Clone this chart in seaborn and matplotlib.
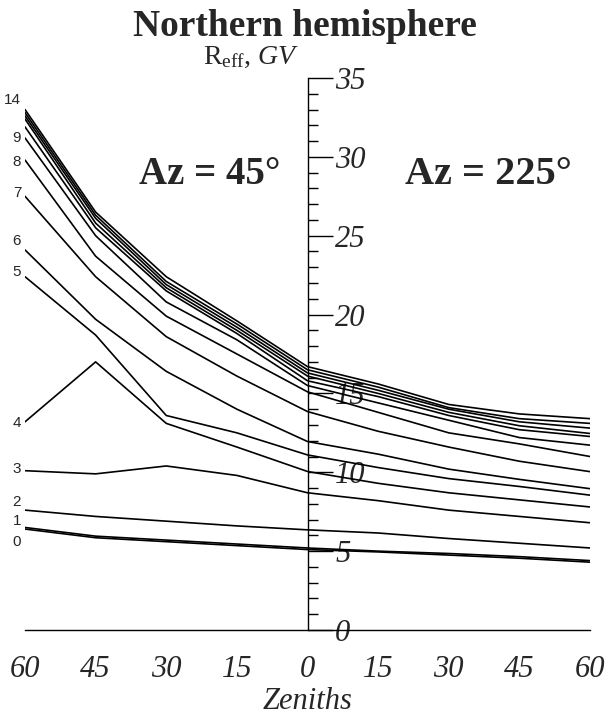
import pandas as pd
import seaborn as sns
import matplotlib.pyplot as plt

# zenith angles: negative side = Az 45, positive side = Az 225
zenith = [-60, -45, -30, -15, 0, 15, 30, 45, 60]
zenith_labels = ['60', '45', '30', '15', '0', '15', '30', '45', '60']

# effective cutoff rigidity (GV) for each curve
r0 = [6.4, 5.85, 5.6, 5.35, 5.1, 4.95, 4.75, 4.55, 4.3]
r1 = [6.5, 5.95, 5.7, 5.45, 5.2, 5.0, 4.85, 4.65, 4.4]
r2 = [7.6, 7.2, 6.9, 6.6, 6.35, 6.15, 5.8, 5.5, 5.2]
r3 = [10.1, 9.9, 10.4, 9.8, 8.7, 8.2, 7.6, 7.2, 6.8]
r4 = [13.2, 17.0, 13.1, 11.6, 10.05, 9.3, 8.7, 8.25, 7.8]
r5 = [22.4, 18.7, 13.6, 12.5, 11.1, 10.3, 9.6, 9.1, 8.55]
r6 = [24.1, 19.7, 16.4, 14.0, 11.95, 11.15, 10.2, 9.55, 8.96]
r7 = [27.5, 22.4, 18.6, 16.1, 13.85, 12.6, 11.6, 10.7, 10.04]
r8 = [29.8, 23.7, 19.9, 17.5, 15.1, 13.8, 12.5, 11.8, 11.0]
r9 = [31.2, 25.0, 20.8, 18.4, 15.5, 14.4, 13.3, 12.2, 11.72]
r10 = [31.9, 25.5, 21.5, 18.8, 15.8, 14.8, 13.6, 12.7, 12.27]
r11 = [32.4, 25.8, 21.7, 19.0, 16.1, 15.0, 13.8, 12.95, 12.46]
r12 = [32.6, 26.1, 21.9, 19.2, 16.3, 15.2, 14.0, 13.2, 12.8]
r13 = [32.8, 26.3, 22.1, 19.4, 16.5, 15.4, 14.1, 13.4, 13.1]
r14 = [33.0, 26.5, 22.4, 19.6, 16.7, 15.6, 14.3, 13.7, 13.4]
curves = [r0, r1, r2, r3, r4, r5, r6, r7, r8, r9, r10, r11, r12, r13, r14]

# curve numbers written at the left edge and where they sit
label_text = ['0', '1', '2', '3', '4', '5', '6', '7', '8', '9', '14']
label_y = [5.6, 6.9, 8.1, 10.2, 13.1, 22.7, 24.65, 27.7, 29.7, 31.2, 33.6]

rows = []
for i, vals in enumerate(curves):
    for z, v in zip(zenith, vals):
        rows.append({'curve': i, 'zenith': z, 'reff': v})
df = pd.DataFrame(rows)

sns.set_style('white')
plt.rcParams['font.family'] = ['Liberation Serif', 'DejaVu Serif']
plt.rcParams['mathtext.fontset'] = 'custom'
plt.rcParams['mathtext.rm'] = 'Liberation Serif'
plt.rcParams['mathtext.it'] = 'Liberation Serif:italic'

fig = plt.figure(figsize=(6.07, 7.15), dpi=100)
ax = fig.add_axes([0.0412, 0.1189, 0.9308, 0.772])

sns.lineplot(data=df, x='zenith', y='reff', hue='curve', palette=['black'] * len(curves),
             legend=False, linewidth=1.2, estimator=None, sort=False, ax=ax)

ax.set_xlim(-60, 60)
ax.set_ylim(0, 35)
ax.set_xlabel('')
ax.set_ylabel('')

# axis cross: vertical scale at zenith 0, horizontal at Reff 0
ax.spines['top'].set_visible(False)
ax.spines['left'].set_visible(False)
ax.spines['right'].set_position(('data', 0))
for s in ['right', 'bottom']:
    ax.spines[s].set_color('black')
    ax.spines[s].set_linewidth(1.0)

ax.yaxis.tick_right()
ax.set_yticks(range(0, 36, 5))
ax.set_yticks(range(0, 36), minor=True)
ax.tick_params(axis='y', which='major', direction='out', length=18, width=1,
               pad=2, labelsize=22, color='black')
ax.tick_params(axis='y', which='minor', direction='out', length=7, width=1, color='black')

ax.set_xticks(zenith, zenith_labels)
ax.tick_params(axis='x', direction='out', length=17, width=1, pad=1,
               labelsize=22, color='black')
for lbl in ax.get_xticklabels() + ax.get_yticklabels():
    lbl.set_fontstyle('italic')

for t, y in zip(label_text, label_y):
    ax.text(-60.8, y, t, ha='right', va='center', fontsize=11,
            family=['Liberation Sans Narrow', 'Liberation Sans'], clip_on=False)

ax.text(-20.7, 28.3, 'Az = 45°', ha='center', va='baseline', fontsize=28, fontweight='bold')
ax.text(38.5, 28.3, 'Az = 225°', ha='center', va='baseline', fontsize=29, fontweight='bold')
ax.text(-1.6, 35.9, r'R$_{\mathrm{eff}}$, $\mathit{GV}$', ha='right', va='baseline',
        fontsize=20, clip_on=False)

fig.text(0.502, 0.949, 'Northern hemisphere', ha='center', va='baseline',
         fontsize=27, fontweight='bold')
fig.text(0.506, 0.008, 'Zeniths', ha='center', va='baseline', fontsize=22, fontstyle='italic')

fig.savefig('out.png', dpi=100)
plt.close()
